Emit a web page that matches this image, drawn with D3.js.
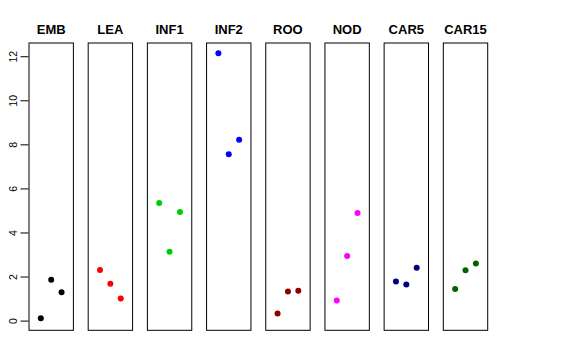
<!DOCTYPE html>
<html>
<head>
<meta charset="utf-8">
<script src="https://cdn.jsdelivr.net/npm/d3@7"></script>
<style>
  body { margin: 0; background: #fff; }
  text { font-family: "Liberation Sans", Arial, sans-serif; }
</style>
</head>
<body>
<div id="chart"></div>
<script>
var w = 576;
var h = 360;

var categories = ['EMB', 'LEA', 'INF1', 'INF2', 'ROO', 'NOD', 'CAR5', 'CAR15'];
var colors = ['#000000', '#FF0000', '#00CD00', '#0000FF', '#8B0000', '#FF00FF', '#000080', '#006400'];
var values = [
  [0.11, 1.86, 1.29],
  [2.30, 1.67, 1.00],
  [5.34, 3.12, 4.93],
  [12.14, 7.55, 8.21],
  [0.32, 1.32, 1.35],
  [0.91, 2.93, 4.88],
  [1.77, 1.64, 2.40],
  [1.44, 2.29, 2.59]
];
var yTicks = [0, 2, 4, 6, 8, 10, 12];

var svg = d3.select('#chart')
  .append('svg')
    .attr('width', w)
    .attr('height', h);

var panel = d3.scaleBand()
  .domain(categories)
  .range([29, 487.7])
  .paddingInner(0.25)
  .paddingOuter(0);

// jitter position inside each panel (1, 2, 3)
var x = d3.scaleLinear()
  .domain([-0.14, 4.14])
  .range([0, panel.bandwidth()]);

var y = d3.scaleLinear()
  .domain([-0.44, 12.6])
  .range([330.3, 43]);

var yAxis = d3.axisLeft(y)
  .tickValues(yTicks)
  .tickSize(8)
  .tickPadding(3)
  .tickFormat(d3.format('d'));

var yAxisG = svg.append('g')
  .attr('class', 'y axis')
  .attr('transform', 'translate(' + [panel(categories[0]) - 0.5, 0] + ')')
  .call(yAxis);
yAxisG.select('.domain').remove();
yAxisG.selectAll('line').attr('stroke', '#000');
yAxisG.selectAll('text')
  .attr('x', null)
  .attr('dy', null)
  .attr('transform', 'translate(-12,0) rotate(-90)')
  .attr('text-anchor', 'middle')
  .attr('font-size', 10.5)
  .attr('fill', '#000');

var g = svg.selectAll('.panel')
  .data(categories)
  .enter().append('g')
    .attr('class', 'panel')
    .attr('transform', function(d) { return 'translate(' + [panel(d), 0] + ')'; });

g.append('rect')
  .attr('x', 0)
  .attr('y', y(12.6))
  .attr('width', panel.bandwidth())
  .attr('height', y(-0.44) - y(12.6))
  .attr('fill', 'none')
  .attr('stroke', '#000')
  .attr('stroke-width', 1);

g.append('text')
  .attr('x', panel.bandwidth() / 2)
  .attr('y', 34)
  .attr('text-anchor', 'middle')
  .attr('font-size', 13)
  .attr('font-weight', 'bold')
  .text(function(d) { return d; });

g.selectAll('circle')
  .data(function(d, i) {
    return values[i].map(function(v, j) { return {v: v, j: j + 1, c: colors[i]}; });
  })
  .enter().append('circle')
    .attr('cx', function(d) { return x(d.j); })
    .attr('cy', function(d) { return y(d.v); })
    .attr('r', 3)
    .attr('fill', function(d) { return d.c; });
</script>
</body>
</html>
